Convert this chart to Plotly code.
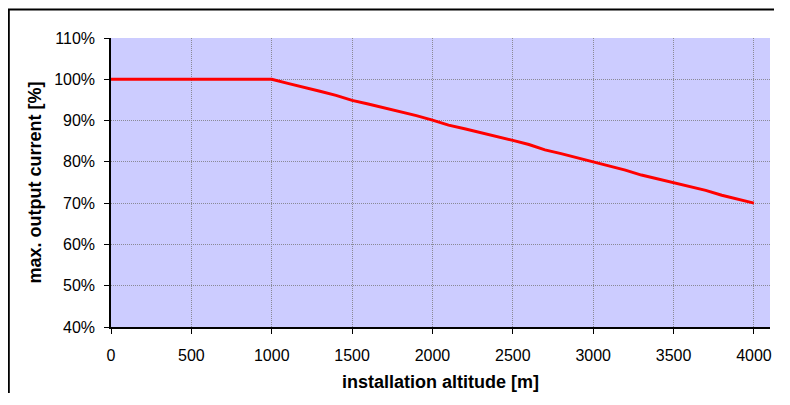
import plotly.graph_objects as go

altitude = [0, 100, 200, 300, 400, 500, 600, 700, 800, 900, 1000,
            1100, 1200, 1300, 1400, 1500, 1600, 1700, 1800, 1900, 2000,
            2100, 2200, 2300, 2400, 2500, 2600, 2700, 2800, 2900, 3000,
            3100, 3200, 3300, 3400, 3500, 3600, 3700, 3800, 3900, 4000]
current = [100, 100, 100, 100, 100, 100, 100, 100, 100, 100, 100,
           99.0, 98.1, 97.1, 96.1, 94.9, 94.0, 93.1, 92.2, 91.2, 90.1,
           88.9, 88.0, 87.1, 86.1, 85.2, 84.2, 82.9, 82.0, 81.0, 80.0,
           79.0, 78.0, 76.8, 75.9, 75.0, 74.0, 73.1, 71.9, 71.0, 70.0]
x_ticks = [0, 500, 1000, 1500, 2000, 2500, 3000, 3500, 4000]
y_ticks = [40, 50, 60, 70, 80, 90, 100, 110]
y_labels = [f"{v}%" for v in y_ticks]

# page has an 8px body margin; figure sized to fit the window
W, H = 766, 385
L, R, T, B = 103, 4, 30, 66
pw, ph = W - L - R, H - T - B

def px(x):
    return (x - L) / pw

def py(y):
    return 1 - (y - T) / ph

fig = go.Figure()
fig.add_trace(go.Scatter(x=altitude, y=current, mode="lines",
                         line=dict(color="#FF0000", width=3), showlegend=False,
                         hoverinfo="x+y"))

font = dict(family="Liberation Sans, Arial, sans-serif", size=16, color="#000000")
grid = dict(showgrid=True, gridcolor="#8A8A96", griddash="1px,1px", gridwidth=1)

fig.update_layout(
    width=W, height=H,
    margin=dict(l=L, r=R, t=T, b=B, autoexpand=False),
    paper_bgcolor="#FFFFFF",
    plot_bgcolor="#CCCCFF",
    font=font,
    xaxis=dict(range=[0, 4100], tickvals=x_ticks, ticks="outside", ticklen=5,
               tickcolor="#000000", showline=True, linecolor="#000000", linewidth=1.5,
               zeroline=False, ticklabelstandoff=8, automargin=False,
               title=dict(text="<b>installation altitude [m]</b>", standoff=12,
                          font=dict(size=18)), **grid),
    yaxis=dict(range=[40, 110], tickvals=y_ticks, ticktext=y_labels, ticks="outside",
               ticklen=5, tickcolor="#000000", showline=True, linecolor="#000000",
               linewidth=1.5, zeroline=False, ticklabelstandoff=6, automargin=False,
               title=dict(text="<b>max. output current [%]</b>", standoff=8,
                          font=dict(size=18)), **grid),
    shapes=[
        dict(type="line", xref="paper", yref="paper", x0=px(0.8), x1=px(0.8),
             y0=py(H + 5), y1=py(1.5), line=dict(color="#000000", width=2)),
        dict(type="line", xref="paper", yref="paper", x0=px(0), x1=px(W + 5),
             y0=py(1.5), y1=py(1.5), line=dict(color="#000000", width=2)),
    ],
)

fig.write_html("out.html")
